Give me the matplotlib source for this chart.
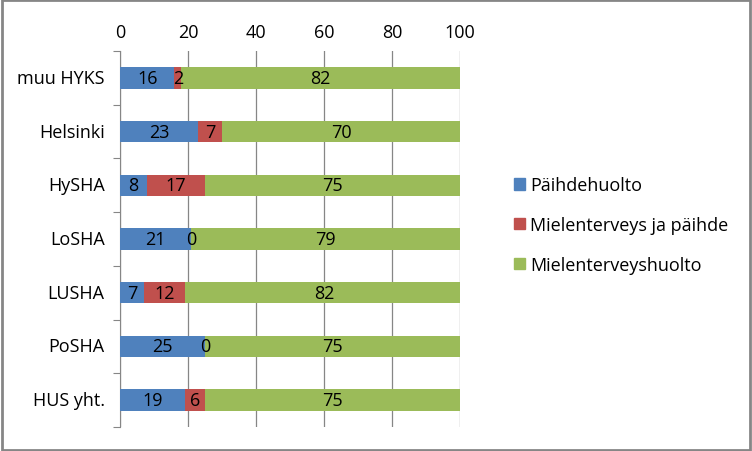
import matplotlib.pyplot as plt
from matplotlib.patches import Patch

categories = ['muu HYKS', 'Helsinki', 'HySHA', 'LoSHA', 'LUSHA', 'PoSHA', 'HUS yht.']
paihde = [16, 23, 8, 21, 7, 25, 19]
mielenterveys_paihde = [2, 7, 17, 0, 12, 0, 6]
mielenterveys = [82, 70, 75, 79, 82, 75, 75]
series_names = ['Päihdehuolto', 'Mielenterveys ja päihde', 'Mielenterveyshuolto']
colors = ['#4F81BD', '#C0504D', '#9BBB59']
ticks = [0, 20, 40, 60, 80, 100]

plt.rcParams['font.family'] = ['Open Sans', 'DejaVu Sans']
fs = 13

fig = plt.figure(figsize=(7.52, 4.52), dpi=100)
ax = fig.add_axes([120 / 752, 24 / 452, 340 / 752, 376 / 452])

y = list(range(len(categories)))
left = [0] * len(categories)
for vals, name, col in zip([paihde, mielenterveys_paihde, mielenterveys], series_names, colors):
    bars = ax.barh(y, vals, left=left, height=0.4, color=col, label=name, zorder=3)
    for b, v in zip(bars, vals):
        ax.text(b.get_x() + b.get_width() / 2, b.get_y() + b.get_height() / 2, str(v),
                ha='center', va='center', fontsize=fs, color='black', zorder=4)
    left = [l + v for l, v in zip(left, vals)]

ax.set_xlim(0, 100)
ax.set_ylim(len(categories) - 0.5, -0.5)
ax.set_xticks(ticks)
ax.xaxis.tick_top()
ax.tick_params(axis='x', length=0, labelsize=fs, pad=7)
ax.grid(axis='x', color='#868686', linewidth=0.9, zorder=0)

# category labels, ticks between categories
ax.set_yticks([i - 0.5 for i in range(len(categories) + 1)])
ax.set_yticklabels([])
ax.tick_params(axis='y', length=5, color='#868686', direction='out')
for i, c in enumerate(categories):
    ax.text(-4.5, i, c, ha='right', va='center', fontsize=fs)

for side in ['top', 'right', 'bottom']:
    ax.spines[side].set_visible(False)
ax.spines['left'].set_color('#868686')

handles = [Patch(color=c) for c in colors]
fig.legend(handles, series_names, loc='center left', bbox_to_anchor=(498 / 752, 1 - 226 / 452),
           frameon=False, fontsize=fs, handlelength=0.6, handleheight=0.6,
           handletextpad=0.3, labelspacing=1.2)

fig.patches.append(plt.Rectangle((0.002, 0.003), 0.995, 0.994, transform=fig.transFigure,
                                 fill=False, edgecolor='#868686', linewidth=2))

fig.savefig('out.png', dpi=100)
